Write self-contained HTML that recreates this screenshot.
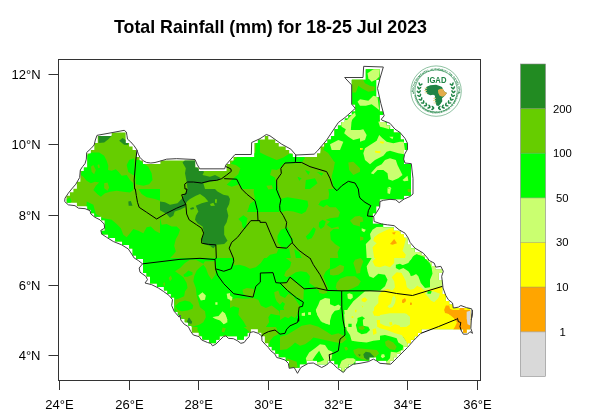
<!DOCTYPE html>
<html><head><meta charset="utf-8"><title>Total Rainfall</title>
<style>
html,body{margin:0;padding:0;background:#fff;}
body{width:600px;height:415px;overflow:hidden;position:relative;font-family:"Liberation Sans",sans-serif;}
svg{position:absolute;left:0;top:0;}
text{font-family:"Liberation Sans",sans-serif;fill:#000;}
.t{font-size:17.8px;font-weight:bold;}
.a{font-size:13px;}
.l{font-size:11.3px;}
</style></head><body>
<svg width="600" height="415" viewBox="0 0 600 415">
<rect width="600" height="415" fill="#fff"/>
<text class="t" x="114" y="33.3">Total Rainfall (mm) for 18-25 Jul 2023</text>
<!--MAP-->
<g id="map"><defs><clipPath id="cc"><path d="M365.74 69.23h13.92v3.57h-13.92zM365.74 72.74h13.92v3.57h-13.92zM365.74 76.26h13.92v3.57h-13.92zM351.82 79.77h24.36v3.57h-24.36zM351.82 83.28h24.36v3.57h-24.36zM351.82 86.79h24.36v3.57h-24.36zM351.82 90.31h24.36v3.57h-24.36zM351.82 93.82h24.36v3.57h-24.36zM351.82 97.33h27.84v3.57h-27.84zM351.82 100.84h27.84v3.57h-27.84zM355.30 104.36h24.36v3.57h-24.36zM355.30 107.87h24.36v3.57h-24.36zM351.82 111.38h31.32v3.57h-31.32zM348.34 114.89h31.32v3.57h-31.32zM344.86 118.41h34.80v3.57h-34.80zM341.38 121.92h45.24v3.57h-45.24zM337.90 125.43h52.20v3.57h-52.20zM334.42 128.94h59.16v3.57h-59.16zM111.70 132.46h13.92v3.57h-13.92zM334.42 132.46h66.12v3.57h-66.12zM97.78 135.97h27.84v3.57h-27.84zM264.82 135.97h3.48v3.57h-3.48zM330.94 135.97h69.60v3.57h-69.60zM97.78 139.48h27.84v3.57h-27.84zM257.86 139.48h17.40v3.57h-17.40zM327.46 139.48h76.56v3.57h-76.56zM94.30 142.99h34.80v3.57h-34.80zM254.38 142.99h24.36v3.57h-24.36zM323.98 142.99h83.52v3.57h-83.52zM94.30 146.51h38.28v3.57h-38.28zM254.38 146.51h31.32v3.57h-31.32zM320.50 146.51h87.00v3.57h-87.00zM90.82 150.02h45.24v3.57h-45.24zM254.38 150.02h34.80v3.57h-34.80zM320.50 150.02h83.52v3.57h-83.52zM87.34 153.53h48.72v3.57h-48.72zM254.38 153.53h38.28v3.57h-38.28zM317.02 153.53h87.00v3.57h-87.00zM87.34 157.04h52.20v3.57h-52.20zM233.50 157.04h170.52v3.57h-170.52zM87.34 160.56h55.68v3.57h-55.68zM160.42 160.56h34.80v3.57h-34.80zM230.02 160.56h174.00v3.57h-174.00zM87.34 164.07h107.88v3.57h-107.88zM226.54 164.07h184.44v3.57h-184.44zM83.86 167.58h114.84v3.57h-114.84zM226.54 167.58h184.44v3.57h-184.44zM80.38 171.09h330.60v3.57h-330.60zM80.38 174.61h330.60v3.57h-330.60zM80.38 178.12h330.60v3.57h-330.60zM76.90 181.63h334.08v3.57h-334.08zM76.90 185.14h334.08v3.57h-334.08zM73.42 188.66h337.56v3.57h-337.56zM69.94 192.17h341.04v3.57h-341.04zM66.46 195.68h337.56v3.57h-337.56zM66.46 199.19h313.20v3.57h-313.20zM76.90 202.71h302.76v3.57h-302.76zM87.34 206.22h288.84v3.57h-288.84zM90.82 209.73h285.36v3.57h-285.36zM94.30 213.24h278.40v3.57h-278.40zM101.26 216.76h271.44v3.57h-271.44zM104.74 220.27h267.96v3.57h-267.96zM104.74 223.78h278.40v3.57h-278.40zM104.74 227.29h288.84v3.57h-288.84zM101.26 230.81h299.28v3.57h-299.28zM108.22 234.32h295.80v3.57h-295.80zM115.18 237.83h292.32v3.57h-292.32zM122.14 241.34h285.36v3.57h-285.36zM129.10 244.86h281.88v3.57h-281.88zM132.58 248.37h281.88v3.57h-281.88zM132.58 251.88h288.84v3.57h-288.84zM136.06 255.39h288.84v3.57h-288.84zM143.02 258.91h285.36v3.57h-285.36zM143.02 262.42h288.84v3.57h-288.84zM143.02 265.93h292.32v3.57h-292.32zM143.02 269.44h299.28v3.57h-299.28zM146.50 272.96h292.32v3.57h-292.32zM149.98 276.47h288.84v3.57h-288.84zM149.98 279.98h292.32v3.57h-292.32zM156.94 283.49h285.36v3.57h-285.36zM163.90 287.01h278.40v3.57h-278.40zM167.38 290.52h274.92v3.57h-274.92zM170.86 294.03h274.92v3.57h-274.92zM174.34 297.54h271.44v3.57h-271.44zM174.34 301.06h274.92v3.57h-274.92zM174.34 304.57h278.40v3.57h-278.40zM174.34 308.08h295.80v3.57h-295.80zM177.82 311.59h292.32v3.57h-292.32zM181.30 315.11h288.84v3.57h-288.84zM184.78 318.62h285.36v3.57h-285.36zM188.26 322.13h281.88v3.57h-281.88zM191.74 325.64h278.40v3.57h-278.40zM191.74 329.16h59.16v3.57h-59.16zM257.86 329.16h163.56v3.57h-163.56zM463.18 329.16h3.48v3.57h-3.48zM198.70 332.67h48.72v3.57h-48.72zM261.34 332.67h156.60v3.57h-156.60zM202.18 336.18h17.40v3.57h-17.40zM236.98 336.18h6.96v3.57h-6.96zM264.82 336.18h149.64v3.57h-149.64zM209.14 339.69h6.96v3.57h-6.96zM264.82 339.69h146.16v3.57h-146.16zM268.30 343.21h139.20v3.57h-139.20zM271.78 346.72h132.24v3.57h-132.24zM275.26 350.23h125.28v3.57h-125.28zM278.74 353.74h118.32v3.57h-118.32zM285.70 357.26h83.52v3.57h-83.52zM376.18 357.26h17.40v3.57h-17.40zM289.18 360.77h17.40v3.57h-17.40zM317.02 360.77h10.44v3.57h-10.44zM334.42 360.77h20.88v3.57h-20.88zM386.62 360.77h3.48v3.57h-3.48zM289.18 364.28h10.44v3.57h-10.44zM337.90 364.28h10.44v3.57h-10.44zM341.38 367.79h3.48v3.57h-3.48z"/></clipPath></defs>
<g clip-path="url(#cc)">
<rect x="58" y="59" width="422" height="320" fill="#66CD00"/>
<path fill="#00FF00" d="M86.33 159.17L86.67 155.83L90.83 152.5L99.17 152.5L104.17 155.83L106.67 160.83L108.33 165.83L108 170L111.67 170.83L115.83 169.17L118.67 172L121.67 175.83L126.67 175L130 180L133.33 183.33L133.33 190L130 192.5L123.33 191.67L116.67 190.83L110 191.67L105 193.33L100.83 196.67L97.5 194.17L93.33 190L95.83 185.83L99.17 182.5L95 181.67L90.83 183.33L86.67 180.83L83.33 176.67L80.83 175L82.5 168.33L85 163.67Z"/>
<path fill="#00FF00" d="M66.67 199.17L70 197.5L71.67 201.67L69.17 203.67L67 202.5Z"/>
<path fill="#00FF00" d="M126.67 165L129.17 160L134.17 158.33L135.33 175L133.33 175.33L128.33 172Z"/>
<path fill="#00FF00" d="M135.83 160L140 160L143.33 163.33L148.33 166.67L151.67 173.33L152.5 180L149.17 184.17L143.33 185.83L135.83 184.17L135.33 175Z"/>
<path fill="#00FF00" d="M230.83 163.67L235 159.17L238.33 155.83L251.67 155.33L255.33 152.5L255.83 142.5L260 139.17L260 189L241.67 189L239.67 184.17L231.67 186.67L226.67 184.67L233.33 178.33L238.33 174.17L240.33 168.33L235.83 165Z"/>
<path fill="#00FF00" d="M260 152.5L266.67 155.83L276.67 160L283.33 157.5L290 153.33L295.83 155.83L303.33 155.83L305 158.33L301.67 162.5L295.83 163.33L283.33 163.67L280 168.33L276.67 170L271.67 169.17L270 175L275 177.5L276.67 189L260 189Z"/>
<path fill="#00FF00" d="M341.67 120L338.33 122.5L326.67 140.83L323.33 150L328.33 153.33L323.33 160L330 163.33L335 161.67L333.33 170L331.67 176.67L333.33 189L360 189L360 120Z"/>
<path fill="#00FF00" d="M360 120L415 120L415 189L360 189Z"/>
<path fill="#00FF00" d="M336.67 65L386.67 65L391.67 124L336.67 124Z"/>
<path fill="#00FF00" d="M86.67 201.5L93.33 204.83L95.83 214L103.33 218.17L111.67 219.83L116.67 224L120.83 228.17L123.33 234.83L126.67 237.33L130 233.17L133.33 229L138.33 230.67L143.33 233.17L146.67 227.33L150.83 226.5L155 230.67L160 233.17L160 258L134.17 258L131.67 254L128.33 249L121.67 244.83L113.33 241.5L106.67 237.33L101.67 234L100.83 230.33L104.67 228.17L104.17 224L100 219.83L95 217.33L90.83 214L90 210.67L85 208.67L86.67 204.83Z"/>
<path fill="#00FF00" d="M138.33 189L160 189L160 200.67L155 199L146.67 197.33L141.67 194Z"/>
<path fill="#00FF00" d="M160 217.33L161.67 224.83L166.67 224L171.67 226.5L176.67 226.5L180 229.83L178.33 234.83L175.83 239L174.17 245.67L175.83 251.5L173.33 254.83L170 258L160 258Z"/>
<path fill="#00FF00" d="M238.33 219L243.33 215.33L247.5 218.17L246.67 222.33L245.83 229L242.5 227.33L241.67 222.33Z"/>
<path fill="#00FF00" d="M249.17 205.67L254.17 201.5L255.83 195.67L255 189.83L260 189L260 212.33L255.83 211.5L250.83 210.67Z"/>
<path fill="#00FF00" d="M260 189L276.67 189L278.33 195.67L280 199L276.67 203.17L270 204.83L266.67 209L260 205.67Z"/>
<path fill="#00FF00" d="M280 199L287.5 197.33L298.33 199L307.5 200.67L308.33 205.67L305.83 211.5L301.67 214L293.33 211.5L286.67 210.67L280.83 212.33L279.17 205.67Z"/>
<path fill="#00FF00" d="M328.33 189L360 189L360 215.67L355 216.5L350 220.67L353.33 224.83L360 226.5L360 258L338.33 258L337.5 252.33L340 247.33L335 244L330.83 239.83L330 232.33L333.33 229L339.17 229L338.33 226.5L331.67 228.17L326.67 224.83L330 221.5L325.83 219.83L330 218.17L338.33 217.33L340 212.33L335.83 207.33L330 207.33L326.67 204.83L323.33 207.33L318.33 204.83L320.83 200.67L328.33 199L329.17 194Z"/>
<path fill="#00FF00" d="M319.17 222.33L322.5 219.83L325.83 221.5L324.17 226.5L320.83 229L318.67 226.5Z"/>
<path fill="#00FF00" d="M305.83 236.5L309.17 233.17L313.33 227.33L315.83 229L314.17 234L311.67 238.17L307.5 239.83Z"/>
<path fill="#00FF00" d="M277.5 235.67L280.83 229.83L285 228.17L287.5 227.33L290 232.33L290.83 237.33L293.33 239L290.83 243.17L286.67 248.17L281.67 247.33L277.5 242.33Z"/>
<path fill="#00FF00" d="M266.67 258L270 254.83L276.67 253.17L278.33 249L289.17 248.17L290.83 258Z"/>
<path fill="#00FF00" d="M294.17 249L299.17 252.33L301.67 258L295.83 258Z"/>
<path fill="#00FF00" d="M360 189L415 189L415 229L360 229Z"/>
<path fill="#00FF00" d="M360 227.33L373.33 227.33L370 258L360 258Z"/>
<path fill="#00FF00" d="M130 258L230 258L230 327L130 327Z"/>
<path fill="#00FF00" d="M230 258L330 258L330 327L230 327Z"/>
<path fill="#00FF00" d="M330 258L430 258L430 327L330 327Z"/>
<path fill="#00FF00" d="M197.5 326.67L200 324.17L205 322.5L206.67 316.67L205 310L238.33 310L244.17 316.67L242.5 322.5L243.33 326.67L246.67 329.17L249.17 331.67L248.67 336.67L244.17 342.5L240.83 342.5L237.5 340L233.33 338.33L228.33 337.5L225.83 335L223.33 335.83L219.17 340L215.83 344.17L206.67 341.67L202.5 339.17L200 335L197.5 330Z"/>
<path fill="#00FF00" d="M268.33 315L273.33 312.5L280 313.33L280 358.33L276.67 357.5L275 354.17L270.83 350.83L268.33 347.5L270 340.83L273.33 336.67L278.33 334.17L276.67 328.33L273.33 324.17L269.17 322.5L267.5 318.33Z"/>
<path fill="#00FF00" d="M280 310L380 310L380 379L280 379Z"/>
<path fill="#00FF00" d="M255 190L277.5 190L278 200L275 207.5L267.5 208.75L260 205L256.25 198.75Z"/>
<path fill="#00FF00" d="M254.22 185.18L260.3 187.2L266.37 185.18L268.39 189.22L273.45 190.24L275.47 185.18L274.46 180.12L277.5 186.19L279.52 193.27L281.04 200.36L279.52 211.99L247.14 211.99L250.18 203.39L255.24 200.36L253.72 192.26Z"/>
<path fill="#66CD00" d="M90.83 166.67L93.33 165L95.83 170L94.17 174.17L91.67 171.67Z"/>
<path fill="#66CD00" d="M97.5 165L99.17 164.17L100 167.5L98.33 168.33Z"/>
<path fill="#66CD00" d="M104.17 183.33L107.5 182.5L109.17 187.5L107.5 190.83L104.17 188.33Z"/>
<path fill="#66CD00" d="M348.33 162.5L353.33 161.67L360 168.33L360 171.67L353.33 175L349.17 170Z"/>
<path fill="#66CD00" d="M347.5 79.17L362.5 78.33L365 83.33L370 85.83L375 86.67L374.17 90.83L368.33 91.67L361.67 88.33L358.33 85.83L355.83 92.5L352.5 92.5L352 85Z"/>
<path fill="#66CD00" d="M360 216.5L362.5 217.33L363.33 221.5L360 222.33Z"/>
<path fill="#66CD00" d="M360 236.5L363.33 237.33L363.33 239.83L360 240.67Z"/>
<path fill="#66CD00" d="M407.5 189L410.83 189L410.83 192.33L408 192Z"/>
<path fill="#66CD00" d="M175 271.33L180 268L185 263L190 259.67L195.83 259.67L203.33 263.83L205 261.33L215.83 261.33L216.33 268L215.33 274.67L211.67 279.67L208.33 274.67L205.83 268L203.33 264.67L200 267.17L196.67 270.5L194.17 276.33L193.33 281.33L195.83 288L196.67 295.5L198.33 301.33L200 307.17L205 311.33L205.83 317.17L203.33 322.17L199.17 324.67L191.67 327L188.33 323.83L183.33 321.33L179.17 314.67L175 308L174.17 299.67L178.33 298.83L184.17 296.33L185 291.33L187.5 288L186.67 283L183.33 277.17L180 274.67Z"/>
<path fill="#66CD00" d="M168.67 278L170.83 275.5L172 278.83L170 281.33Z"/>
<path fill="#66CD00" d="M163.33 283L164.67 282.17L165 285.5L163.67 286Z"/>
<path fill="#66CD00" d="M233.33 258L264.17 258L260.83 263L255.83 267.17L250 268.83L245 266.33L239.17 264.67L234.17 265.5Z"/>
<path fill="#66CD00" d="M285.83 258L330 258L330 268L325.83 271.33L323.33 276.33L325.83 283L328.33 288.83L323.33 290.5L317.5 289.67L314.17 286.33L309.17 283L310 276.33L306.67 272.17L300.83 271.33L295.83 272.17L290.83 275.5L286.67 277.17L284.17 275.5L285.83 271.33L290 267.17L291.33 262.17Z"/>
<path fill="#66CD00" d="M242.5 289.67L246.67 288L253.33 288.83L255 291.33L253.33 297.17L246.67 296.33L243.33 293.83Z"/>
<path fill="#66CD00" d="M230 299.67L236.67 298L245 298.83L253.33 298L258.33 299.67L260.83 305.5L265.83 308L271.67 305.5L275 308L279.17 311.33L280 315.5L275 314.67L270.83 313.83L268.33 317.17L269.17 322.17L265.83 327L246.67 327L243.33 321.33L238.33 314.67L239.17 308L233.33 306.33L230 308Z"/>
<path fill="#66CD00" d="M274.17 292.17L278.33 290.5L280 295.5L285 298L288.33 293.83L293.33 296.33L296.67 301.33L300 306.33L298.33 313L295 318L290 315.5L285.83 313L283.33 308L285 303.83L282.5 301.67L280 304.67L276.67 301.33L275 297.17Z"/>
<path fill="#66CD00" d="M330 269.67L335 268L340 264.67L344.17 266.33L343.33 271.33L338.33 274.67L333.33 275.5L330 274.67Z"/>
<path fill="#66CD00" d="M355 259.67L360.83 258L363.33 261.33L360.83 268L360 273L356.67 273.83L355 268L353.33 263Z"/>
<path fill="#66CD00" d="M336.67 283L340 278.83L346.67 276.33L355 276.33L360.83 281.33L358.33 285.5L353.33 288L346.67 290.5L337.5 290.5L335.83 287.17Z"/>
<path fill="#66CD00" d="M222.5 327.5L225.83 328.33L224.17 332.5L221.67 331.67Z"/>
<path fill="#66CD00" d="M280 310L290 310L292.5 315L288.33 318.33L285 316.67L280 320Z"/>
<path fill="#66CD00" d="M280 336.67L286.67 335L295 330L301.67 325.83L310 324.17L318.33 326.67L326.67 331.67L331.67 335L338.33 333.33L344.17 335.83L346.67 339.17L341.67 343.33L336.67 342.5L328.33 340.83L321.67 339.17L313.33 337.5L310 340.83L305 344.17L300 345.83L295 342.5L291.67 345.83L286.67 349.17L280 350Z"/>
<path fill="#66CD00" d="M286.67 358.33L291.67 360L296.67 361.67L297.5 366.67L297.5 373.33L294.17 367.5L289.17 368.33L288.33 363.33Z"/>
<path fill="#66CD00" d="M353.33 350L358.33 348.33L368.33 349.17L376.67 350L379.17 353.33L373.33 359.17L366.67 360L361.67 359.17L356.67 356.67L354.17 353.33Z"/>
<path fill="#66CD00" d="M344.17 347.5L346.67 346.67L348.33 349.17L345.83 350.83Z"/>
<path fill="#66CD00" d="M318.5 289.6L326.67 289.83L327.25 292.75L323.17 293.92L319.09 292.75Z"/>
<path fill="#66CD00" d="M289.92 277.58L303.92 288.67L303.33 300.33L295.17 296.25L287 289.83L281.17 283.42L286.42 282.25Z"/>
<path fill="#66CD00" d="M305 155.83L315 154.17L323.33 150L328.33 153.33L334.17 161.67L333.33 170L330 171.67L326.67 170.83L310 166.33L302.5 162.5L305 158.67Z"/>
<path fill="#66CD00" d="M266.37 185.68L271.93 185.18L272.94 188.72L268.39 189.43Z"/>
<path fill="#00FF00" d="M305 170L310 171.67L308.33 175Z"/>
<path fill="#00FF00" d="M297.5 176.67L301.67 178.33L299.17 180.83Z"/>
<path fill="#00FF00" d="M305.83 180L315 178.33L317.5 183.33L310 189L305 189Z"/>
<path fill="#00FF00" d="M316.67 171.67L323.33 173.33L321.67 175.83Z"/>
<path fill="#00FF00" d="M183.33 274.67L185.83 273L188.33 270.5L192.5 272.17L192.5 274.67L187.5 276.67L184.17 276.67Z"/>
<path fill="#00FF00" d="M175 306.33L179.17 302.17L185 300.5L190 301.67L193.33 305.5L192.5 308.83L187.5 310.5L181.67 311.33L177.5 309.67Z"/>
<path fill="#CAFF70" d="M340 121.67L343.33 120L351.67 120L350.83 130L360 130L360 138.33L353.33 140L348.33 136.67L344.17 133.33L345.83 129.17L341.67 126.67Z"/>
<path fill="#CAFF70" d="M330 144.17L338.33 140L343.33 141.67L340 150L331.67 150Z"/>
<path fill="#CAFF70" d="M360 130L363.33 129.17L366.67 135L365 140L360 141.67Z"/>
<path fill="#CAFF70" d="M378.33 121.67L381.67 120.83L390 125L389.17 129.17L383.33 127.5L380 126.67Z"/>
<path fill="#CAFF70" d="M365 148.33L370 145L376.67 140.83L379.17 135L382.5 138.33L386.67 141.67L393.33 143.33L400 141.67L403.67 141.67L405 150L404.17 154.17L398.33 153.33L390 150.83L386.67 151.67L383.33 155.83L375 160L370 164.17L365 160L363.33 153.33Z"/>
<path fill="#CAFF70" d="M389.17 136.67L393.33 136.67L392.5 139.17Z"/>
<path fill="#CAFF70" d="M370.83 173.33L376.67 166.67L381.67 164.17L385 160L390 158.33L395.83 160L397.5 165L400 170L402.5 175L398.33 178.33L392.5 180.83L388.33 179.17L387.5 173.33L383.33 170L377.5 170L373.33 174.17Z"/>
<path fill="#CAFF70" d="M402.5 180L407.5 175.83L408.33 180.83L404.17 181.33Z"/>
<path fill="#CAFF70" d="M386.67 188.33L390 186.67L391.67 189Z"/>
<path fill="#CAFF70" d="M367.5 73.33L373.33 69.17L380.33 68.33L379.17 76.67L376.67 79.17L371.67 81.67L368.33 78.33Z"/>
<path fill="#CAFF70" d="M357.5 101.67L360 99.17L368.33 100.83L373.33 95.83L377.5 96.67L379.17 110L375 106.67L371.67 104.17L365.83 105.83L360 105.83Z"/>
<path fill="#CAFF70" d="M347.5 119.17L351.67 115L355 112.5L355.83 115.83L352.5 119.17L350 124L347.5 124Z"/>
<path fill="#CAFF70" d="M379.17 121.67L384.17 120.83L386.67 124L380 124Z"/>
<path fill="#CAFF70" d="M372.5 229.83L376.67 227L394.17 226.5L399.17 230.33L405 233.67L408.33 238.67L410 243.17L415 248.67L415 258L366.67 258L365.83 244L370.83 239L370 234Z"/>
<path fill="#CAFF70" d="M361.67 228.17L365.83 229.83L364.17 232.33L361.67 230.67Z"/>
<path fill="#CAFF70" d="M387.5 189L390.83 189L390 194L387.5 193.17Z"/>
<path fill="#CAFF70" d="M198.33 295.5L202.5 292.17L205.83 295.5L205 299.67L200.83 300.5Z"/>
<path fill="#CAFF70" d="M212.5 317.17L218.33 316.33L222.5 311.33L225.83 315.5L227.5 322.17L223.33 323.83L220 320.5L215 318.83Z"/>
<path fill="#CAFF70" d="M215.33 302.17L217.5 302.17L217.5 304.67L215.33 304.67Z"/>
<path fill="#CAFF70" d="M226.67 293.83L230 293L230 299.67L227.5 298.83Z"/>
<path fill="#CAFF70" d="M320 300.5L325 298L330 298.83L330 324.67L325.83 323.83L320.83 321.33L317.5 315.5L315.83 309.67L318.33 304.67Z"/>
<path fill="#CAFF70" d="M230 295.5L232.5 297.17L232 300.5L230 300.5Z"/>
<path fill="#CAFF70" d="M302.5 313L305 313L305 315.5L302.5 315.5Z"/>
<path fill="#CAFF70" d="M308.33 312.17L310.83 312.17L310.83 314.67L308.33 314.67Z"/>
<path fill="#CAFF70" d="M366.67 266.33L371.67 258L430 258L430 327L345 327L344.17 314.67L348.33 308L353.33 301.33L360 295.5L365 291.33L380 290.5L385 286.33L387.5 279.67L385 274.67L378.33 273.83L373.33 278L369.17 276.33L367.5 271.33Z"/>
<path fill="#CAFF70" d="M400 258L450 258L450 291.33L400 291.33Z"/>
<path fill="#CAFF70" d="M212.5 317L220 316.33L222.5 311.67L225 313.33L227.5 320L225.83 323.33L223.33 324.17L221.67 320L217.5 318.33Z"/>
<path fill="#CAFF70" d="M315.83 310L335 310L331.67 315L330 320.83L329.17 325L325.83 321.67L322.5 322.5L320 318.33L317.5 315Z"/>
<path fill="#CAFF70" d="M301.67 313.33L305 312.5L305 315.83L301.67 315.83Z"/>
<path fill="#CAFF70" d="M308.33 312.5L310.83 312.5L310.83 314.67L308.33 314.67Z"/>
<path fill="#CAFF70" d="M305.83 358.33L309.17 352.5L315 348.33L320 344.17L325 345L328.33 350L332.5 351.67L331.67 358.33L330 361.67L326.67 365L321.67 367.5L313.33 363L308.33 363.33L306.67 361.67Z"/>
<path fill="#CAFF70" d="M344.17 310L380 310L380 340L373.33 340.83L366.67 342.5L358.33 341.67L351.67 340.83L350 335L346.67 330L345.33 320Z"/>
<path fill="#CAFF70" d="M339.17 366.67L341.67 360.83L346.67 358.33L353.33 358.33L355.83 360L353.33 364.17L346.67 368.33L343.33 372.5L340 370Z"/>
<path fill="#CAFF70" d="M329 303.84L334.84 306.17L338.34 304.42L340.67 306.17L339.5 309.67L334.84 310.84L331.34 314.34L329 312Z"/>
<path fill="#CAFF70" d="M347.3 294L349.5 293.2L352.5 294.5L352.9 297.5L350.5 299.4L347.8 298.5Z"/>
<path fill="#00FF00" d="M409.17 247.33L415.83 248.17L415.83 258L410 258Z"/>
<path fill="#00FF00" d="M395.83 264.67L400 263.83L403.33 265.5L410 263L413.33 258L430 258L430 287.17L425 288L420.83 283L418.33 276.33L415 273L411.67 276.33L408.33 271.33L403.33 268L399.17 269.67L395.83 268Z"/>
<path fill="#00FF00" d="M357.5 318L362.5 316.33L363.33 327L357.5 327Z"/>
<path fill="#00FF00" d="M348.33 323.83L351.67 323.83L351.67 327L348.33 327Z"/>
<path fill="#00FF00" d="M401.67 265.5L408.33 263L411.67 258L427.5 258L430 263L431.67 268L432.5 273.83L430 279.67L427.5 283L426.67 287.17L424.17 286.33L422.5 281.33L420 277.17L416.67 273.83L413.33 275.5L410 275.5L412.5 269.67L408.33 266.33L403.33 267.17Z"/>
<path fill="#00FF00" d="M312.5 360L315.83 355L319.17 350.83L321.67 355.83L324.17 360L320 361.67L315.83 362.5Z"/>
<path fill="#00FF00" d="M355.83 325L358.33 320L362.5 316.67L365 318.33L361.67 320.83L360 325L363.33 325.83L368.33 326.67L370 330L366.67 333.33L361.67 334.17L357.5 331.67Z"/>
<path fill="#66CD00" d="M358.33 326.67L363.33 325.83L365 328.33L362.5 330L359.17 329.17Z"/>
<path fill="#FFFF00" d="M380 141.33L384.17 141.67L383.33 143.67L380.33 143Z"/>
<path fill="#FFFF00" d="M375 150.83L380.83 151.33L380 153.33L375.33 152.83Z"/>
<path fill="#FFFF00" d="M360 148L363 148.33L362.5 149.67L360 149.67Z"/>
<path fill="#FFFF00" d="M374.17 237.33L378.33 234L385 230.67L390.83 228.17L394.17 227.67L399.17 231.5L403.67 234.83L405.83 239L404.17 245.67L402.5 250.67L405.83 254.83L405 258L374.17 258L372.5 247.33L376.67 243.17L373.33 240.67Z"/>
<path fill="#FFFF00" d="M372.5 261.33L375.83 258L394.17 258L394.17 263L390 267.17L385 265.5L380 267.17L375 266.33Z"/>
<path fill="#FFFF00" d="M391.67 277.17L396.67 272.17L401.67 273L404.17 279.67L406.67 287.17L411.67 291.33L416.67 286.33L420.83 287.17L425 291.33L430 290.5L430 327L411.67 327L410.83 321.33L408.33 316.33L403.33 313.83L396.67 315.5L388.33 313.83L381.67 314.67L377.5 316.33L373.67 313L374.17 307.17L378.33 303L378.33 296.33L381.67 291.33L387.5 288.83L392.5 290.5L395 287.17L394.17 281.33Z"/>
<path fill="#FFFF00" d="M376.67 321.33L380 323.83L386.67 325.5L390 327L377.5 327Z"/>
<path fill="#FFFF00" d="M361.67 298.83L365 297.17L367.5 299.67L365 302.17L361.67 301.33Z"/>
<path fill="#FFFF00" d="M355 309.67L356.67 309.67L356.33 312.17L355 312.17Z"/>
<path fill="#FFFF00" d="M361.67 305.5L363.33 306.33L362.5 307.67Z"/>
<path fill="#FFFF00" d="M400 272.17L403.33 276.33L405.83 281.33L406.67 287.17L410 289.67L415 288.83L417.5 285.5L420 288.83L425 290.5L442.67 286L444 288.83L447 295.5L449.5 299.67L453.67 303L454.33 308.33L458.33 308L460.83 306.33L466.67 308L471.67 309.67L471.67 327L400 327Z"/>
<path fill="#FFFF00" d="M372.5 311.67L375.83 310L380 310L380 315.83L374.17 315.83Z"/>
<path fill="#FFFF00" d="M376.67 320L380 320L380 328.33L377.5 326.67Z"/>
<path fill="#FFFF00" d="M372.5 329.17L375.83 328.33L376.67 333.33L373.33 335Z"/>
<path fill="#FFFF00" d="M351.67 316.33L353.33 316.33L353.33 318L351.67 318Z"/>
<path fill="#FFFF00" d="M380 310L480 310L480 336.67L380 336.67Z"/>
<path fill="#FFFF00" d="M396.67 331.67L423.33 330L421.67 334.17L407.5 348.33L405.83 340.83L401.67 335Z"/>
<path fill="#CAFF70" d="M387.5 306.33L390.83 303.83L392.5 297.17L394.17 295.5L395.83 298.83L395 303L392.5 307.17L389.17 308Z"/>
<path fill="#CAFF70" d="M425 293.83L427.5 291.33L433.33 291.33L440 293.83L438.33 298L434.17 302.17L430.83 300.5L428.33 297.17Z"/>
<path fill="#CAFF70" d="M400 314.67L406.67 313.83L410 318L409.17 324.67L405 327L400 327Z"/>
<path fill="#00FF00" d="M427.5 291.33L431.67 291L430.83 293.83L427.5 293.83Z"/>
<path fill="#CAFF70" d="M380 315L390 313.33L405 313.33L410 316.67L410 324.17L406.67 326.67L400 325.83L395 324.17L390 326.67L385 325.83L380 323.33Z"/>
<path fill="#CAFF70" d="M380 328.33L386.67 330L395 333.33L401.67 335L405.83 340.83L408.33 345.83L398.33 358.33L390.83 366.67L380 366.67Z"/>
<path fill="#CAFF70" d="M407.11 240L434.78 240L434.78 266.99L429.38 262.94L423.98 256.87L416.56 254.17L413.18 256.19L410.49 260.24L407.79 258.89L406.44 248.1Z"/>
<path fill="#FFA500" d="M391.67 232.67L395.83 232L394.17 234.83Z"/>
<path fill="#FFA500" d="M390 244L394.17 239L397 243.17L392.5 244.83Z"/>
<path fill="#FFA500" d="M402.5 299.67L405.33 298.83L405.83 301.33L403.33 303.33L402 302.17Z"/>
<path fill="#FFA500" d="M410 302.67L411.67 302.67L411.67 304.67L410 304.67Z"/>
<path fill="#FFA500" d="M444.17 309.67L445.83 305.5L449.17 305.5L450 308.83L454.17 310.5L459.17 310.5L460 307.17L464.17 307.67L464.67 311.33L467.5 311.33L473.33 311.33L473.33 327L459.17 327L456.67 321.33L451.67 315.5L448.33 313.83L445 313Z"/>
<path fill="#FFA500" d="M402.5 299.67L405 298L405.83 300.5L403.67 303L402 302.17Z"/>
<path fill="#FFA500" d="M410 302.67L411.67 302.67L411.67 304.67L410 304.67Z"/>
<path fill="#FFFF00" d="M389.17 322.5L391.67 321.67L392.5 325L390 325.83Z"/>
<path fill="#00FF00" d="M380 335.83L385 335L391.67 336.67L396.67 338.33L398.33 342.5L403.33 345.83L402.5 350L396.67 352.5L390.83 351.67L390 358.33L386.67 361.67L380 365Z"/>
<path fill="#00FF00" d="M413.86 255.92L416.56 254.3L423.98 257L428.03 262.27L414.53 262.27Z"/>
<path fill="#D9D9D9" d="M467.5 312.17L470 311.33L473.33 313L473.33 323L467.5 323.83L466.67 318Z"/>
<path fill="#66CD00" d="M385 341.67L388.33 340L393.33 342.5L396.67 346.67L395 350L390 349.17L385.83 345.83Z"/>
<path fill="#CAFF70" d="M381.67 354.17L384.17 354.17L385 356.67L382.5 358.33L380.83 356.67Z"/>
<path fill="#FFA500" d="M444.17 310L480 310L480 336.67L452.5 336.67L452.5 330.83L455 326.67L457 322.5L454.17 318.33L450 315L446.67 312.5Z"/>
<path fill="#228B22" d="M98.33 135.33L112.5 135L108.33 139.17L104.17 142.5L98.67 143Z"/>
<path fill="#228B22" d="M119.17 140.83L122.5 138L125.83 140L128.67 141.67L128 145L124.17 144.67Z"/>
<path fill="#228B22" d="M182.5 162.5L185 160L195 160L195.83 165.83L199.17 169.17L204.17 171.67L202.5 175L210 176.67L215 175L220 177.5L219.17 180L210 181.67L203.33 183.33L205 189L187.5 189L186.67 181.67L185 173.33L185.83 168.33Z"/>
<path fill="#228B22" d="M128.33 201.5L130.83 201L132.5 205.67L128.67 205.67Z"/>
<path fill="#228B22" d="M187.5 189L215 189L217.5 191.5L223.33 194.83L228.33 195.67L230 199L229.17 204L226.67 209L228.33 215.67L226.67 222.33L224.17 226.5L224.17 234.83L227.5 240.67L224.17 244L216.67 244.83L213.33 248.17L210 245.67L203.33 244L201.67 239L204.17 233.17L202.5 226.5L197.5 223.17L195 219.83L195.83 215.67L198.33 211.5L195.83 205.67L201.67 203.17L208.33 201.5L204.67 197.33L200 194L195.83 195.67L190 199L185 203.17L181.67 200.67L183.33 195.67L186.67 191.5Z"/>
<path fill="#228B22" d="M160 201.5L165 202.33L170 204.83L177.5 203.17L180.83 199.83L184.17 196.5L188.33 198.17L185.83 204L185 207.33L180 209.83L174.67 211.5L173.33 215.67L170 217.67L166.67 214L160 210.33Z"/>
<path fill="#228B22" d="M190 208.17L193.33 207L194.17 209L190.83 209.83Z"/>
<path fill="#228B22" d="M186.67 322.17L188.67 317.67L192 322.17L190.83 323.33Z"/>
<path fill="#228B22" d="M186.67 323.33L189.17 317.5L192 321.67L191.67 323.67Z"/>
<path fill="#228B22" d="M363.33 354.17L365.83 351.67L370 352.5L374.17 356.67L373.33 359.17L366.67 359.67L364.17 357.5Z"/>
<path fill="#228B22" d="M358 354.17L360.83 354.67L359.67 356.33Z"/>
<path fill="#D9D9D9" d="M466.67 311.67L470 310.83L473.33 313.33L473.33 320L471.33 325.83L467.5 324.17L466.67 318.33Z"/>
<path fill="#66CD00" d="M210 204L213.33 202.67L215 205.67L210.83 206Z"/>
<path fill="#66CD00" d="M215 199.33L217 199.33L216.67 203.17L215 202.67Z"/>
</g>
<g fill="none" stroke="#000" stroke-width="1" stroke-linejoin="round">
<path d="M137 150L135.83 160L135 170L134.17 180L134.67 189L135.33 189L136.33 195.67L137.5 202.33L139.17 207.33L146.67 212.33L156.67 219L160 217L166.67 213.17L176.67 208.17L185.83 204.33"/>
<path d="M225.33 166.33L230.83 168.83L231.33 171.33L226.67 175L221.67 178.67L216.67 180.33L210 180.83L201.67 183L193.33 182L187.5 182L184.67 184.17L185 189L187 189L185.83 194L181.67 194.83L183.33 199.83L185.83 204.33L186.67 214L189.17 219.83L196.67 224.83L201.67 228.17L203.67 233.17L201.67 239L201.67 243.17L208.33 244.33L215.83 244.83L216.33 258L215 259.5L215.5 268.75L217.5 275L223.75 283.75L233.75 293.75L252.5 297L253 297.17L255.83 286.33L260.33 282.17L260.33 273L273 272.67L275.83 282.67L280 283L286.67 282.67L290 277.17L304.17 288.83L316.67 288L327.5 290.5L330 290.5L341.67 290.83L370 290.83L385 291.33L396.67 293.5L412.5 295.5L412.5 295.5L442.5 286.33"/>
<path d="M224.17 178.67L236.67 179.17L241.67 189L241.67 189L246.67 194L255 200.67L257.5 210.67L258 220.67L250.83 220.67L243.33 229.83L237.5 237.33L231.67 242.33L229.17 248.17L231.67 254L233.33 258L233.75 261.25L231.25 268.75L223.75 271.25L215.5 268.75"/>
<path d="M258 220.67L260 220.67L260 222.33L265.83 222.33L270 232.33L276.67 247.33L286.67 248.17L292 242.67"/>
<path d="M295.83 155L295.33 162.5L285 163L280.83 168.33L281.33 173.33L276.67 180L276.67 189L276.33 189L278.33 194L280.83 199.83L279.67 205.67L280 210.67L283.33 215.67L286.67 222.33L285.83 228.17L288.33 233.17L291.67 239L292.5 243.17L298.33 249.83L305 254.83L309.67 258L310 258L313.33 264.67L320 274.67L324.17 283L327.5 290.5"/>
<path d="M295.33 162.5L301.67 162.5L310 166.67L326.67 171.67L330 178.33L332.5 185.83L335 189L337 190.67L338.67 189L341.67 185.83L348.33 181.33L355 183L358.33 189L359.17 195.67L360 198.17L365 202.33L370.83 205.67L368.33 210.67L367.5 216L373.67 216.5"/>
<path d="M142.5 263.83L180 259.33L200 258.33L215 259.5"/>
<path d="M280 283L287.5 290.5L296.67 298L303.33 302.17L302.5 306.33L299.17 307.17L298.33 313L298.67 321.33L298.67 316.67L297.5 322.5L290 325.83L286.67 329.17L285 333.33L280 334.17L275 330L268.33 331.67L263.33 334.17L261.67 336.67"/>
<path d="M341.67 290.83L341.83 308L342 310L343 320L344.67 328.33L345 335L340 339.17L339.17 345L338.33 350.83L333.33 353.33L329.17 354.67L330 361.67"/>
<path d="M420.83 333.33L438.33 326.67L456.67 319.17L457.5 318.33L458.33 321.67L460.83 322.5L460 326.67L461.33 330.83"/>
</g>
<path fill="none" stroke="#404040" stroke-width="1" stroke-linejoin="round" d="M420.83 333.33L413.33 340.83L407.5 347.5L398.33 356.67L390.83 364.17L380 363.33L376.67 360.83L373.33 359.17L368.33 361.67L360 363.33L353.33 364.17L346.67 368.33L343.33 372.5L340 370L337.5 368.33L333.33 364.17L330 361.67L326.67 365L321.67 367.5L313.33 363L308.33 363.33L300.83 367.5L297.5 373.33L294.17 367.5L289.17 368.33L288.33 363.33L285 360L280 358.33L276.67 357.5L275 354.17L270.83 350.83L268.33 347.5L265 344.17L262 340.83L261.67 335.83L258.33 333.33L253.33 331.67L250 332.5L249.17 336.67L246.67 339.17L244.17 342.5L240.83 343.33L237.5 340.83L233.33 338.67L228.33 338.33L225.83 335.83L223.33 336.67L219.17 340.83L215.83 344.17L212.5 345.83L210.83 343.33L207.5 342.5L201.67 340L199.17 336.67L193.33 335L190.83 331.67L188.33 326.67L184.17 324.17L180.83 320L180 315L179.17 317.17L174.17 311.33L171.67 305.5L172.5 299.67L169.17 295.5L163.33 291.33L158.33 288L151.67 284.67L145 283L147.5 279.67L145.83 276.33L140 272.17L139.17 268L142.5 263.83L138.33 260.5L134.17 258L131.67 254L128.33 249L121.67 244.83L113.33 241.5L106.67 237.33L101.67 234L100.83 230.33L104.67 228.17L104.17 224L100 219.83L95 217.33L90.83 214L90 210.67L85 208.67L78.33 208.17L75 205.67L68.33 204.83L64.67 201.5L65 198.17L68.33 193.17L71.67 189L71.67 189L75.83 184.17L79.67 177.5L80.33 170L82.5 166.67L85 163.67L86.33 159.17L86.67 152.5L90.83 148.67L94.17 145L95.33 140L97 135.33L110 133L124.17 130.33L126.33 132L127 135.83L127.5 139.17L130.83 142L134.17 145.83L137 150L138.33 154.17L140 157.5L143.33 160.83L146.67 162.5L150.83 163L155 162.5L160 161.17L166.67 159.17L176.67 158.67L195 159.5L197 164.17L199.67 168.83L224.67 168.83L225.83 165L235 154.5L251.33 154.5L251.67 142.5L260 138.67L266.33 134.5L270 135.83L281.67 144.17L290.83 149.17L295.83 155L314.17 154.17L317.5 150.83L326.67 140L333.33 130L338.33 122.5L345 117.5L355.33 108.33L351.67 104.17L351.67 85L344.67 77.5L363 77.5L363.67 66.33L383.33 67L380 78.33L377.5 88.33L380.83 103.33L384.17 115.83L381.33 119.17L381.67 120L390 123.33L395 129.17L400 132.5L405 138.33L407.5 143.33L407.5 149.17L404.67 154.17L403.67 159.17L405 163L411.33 163.67L412 170L413 178.33L413 189L413 194L410 196.5L404.17 199L399.17 202.67L395.83 199.83L390 199.33L383.33 200.33L380 201.5L379.67 207.33L376.67 212.33L373.67 216.5L374.17 221.5L381.67 224L387.5 224.83L394.17 225.67L399.17 229.83L405 233.17L408.33 238.17L410 242.33L415 248.17L423.33 253.17L427.5 258L429.17 260.5L434.17 263L435.83 267.17L440.83 266.33L443.33 271.33L441.67 276.33L442.5 283L443 288L445.83 295.5L448.33 299.67L452.5 303L453.33 308L458.33 307.17L460.83 305.5L466.67 307.67L471.67 308.83L472.5 313L471.33 319.67L472.5 310L471.33 320L470.83 328.33L472.5 333.33L470 331.67L467.5 334.17L463.33 334.17L461.33 330.83"/></g><!--ENDMAP-->
<!--LOGO--><g id="logo">
<rect x="409" y="64" width="54.500" height="54.500" fill="#fff"/>
<circle cx="436.1" cy="91.1" r="25.2" fill="#fff" stroke="#1f8445" stroke-width="0.5"/>
<circle cx="436.1" cy="91.1" r="21.2" fill="none" stroke="#1f8445" stroke-width="0.6"/>
<defs><path id="rt" d="M413.80 92.60A22.3 22.3 0 0 1 458.40 92.60"/><path id="rb" d="M413.90 94.10A22.4 22.4 0 0 0 458.30 94.10"/></defs>
<text style="font-size:3px;font-weight:bold;fill:#1f8445;letter-spacing:0.02px" text-anchor="middle"><textPath href="#rt" startOffset="50%">INTERGOVERNMENTAL AUTHORITY ON DEVELOPMENT</textPath></text>
<text style="font-size:2.8px;font-weight:bold;fill:#1f8445;letter-spacing:0px" text-anchor="middle"><textPath href="#rb" startOffset="50%">AUTORITE INTERGOUVERNEMENTALE POUR LE DEVELOPPEMENT</textPath></text>
<circle cx="413.50" cy="93.00" r="0.8" fill="#1f8445"/>
<circle cx="458.70" cy="93.00" r="0.8" fill="#1f8445"/>
<text x="427.26" y="82.91" textLength="19.2" lengthAdjust="spacingAndGlyphs" style="font-size:9.2px;font-weight:bold;fill:#1f8445">IGAD</text>
<path fill="#1f8445" d="M426.69 86.75L430.30 85.30L436.08 84.87L439.70 86.02L442.01 86.89L442.88 88.91L444.32 91.52L446.93 92.96L444.76 95.85L442.01 98.17L442.30 101.20L440.56 104.09L438.54 105.97L436.52 105.54L435.36 102.21L434.64 98.46L435.07 95.85L433.19 94.70L430.30 95.13L427.41 94.12L425.53 91.23L425.24 88.91 Z"/>
<path fill="#e3ab4a" d="M437.96 90.07L440.42 88.63L442.88 88.91L444.32 91.52L446.93 92.96L444.76 95.85L442.30 96.87L439.70 95.85L438.25 92.96 Z"/>
<rect x="424.52" y="87.76" width="2.6" height="0.9" fill="#f1d48a"/>
<rect x="424.23" y="90.07" width="2.6" height="0.9" fill="#f1d48a"/>
<rect x="424.66" y="92.38" width="2.6" height="0.9" fill="#f1d48a"/>
<rect x="433.34" y="97.88" width="2.6" height="0.9" fill="#f1d48a"/>
<rect x="433.05" y="100.19" width="2.6" height="0.9" fill="#f1d48a"/>
<rect x="433.63" y="102.50" width="2.6" height="0.9" fill="#f1d48a"/>
<ellipse cx="439.26" cy="107.11" rx="1.75" ry="0.8" fill="#1f8445" transform="rotate(-45.0 439.26 107.11)"/>
<ellipse cx="439.48" cy="108.94" rx="1.75" ry="0.8" fill="#1f8445" transform="rotate(31.0 439.48 108.94)"/>
<ellipse cx="442.73" cy="106.01" rx="1.75" ry="0.8" fill="#1f8445" transform="rotate(-57.8 442.73 106.01)"/>
<ellipse cx="443.35" cy="107.75" rx="1.75" ry="0.8" fill="#1f8445" transform="rotate(18.2 443.35 107.75)"/>
<ellipse cx="445.87" cy="104.18" rx="1.75" ry="0.8" fill="#1f8445" transform="rotate(-70.6 445.87 104.18)"/>
<ellipse cx="446.86" cy="105.73" rx="1.75" ry="0.8" fill="#1f8445" transform="rotate(5.4 446.86 105.73)"/>
<ellipse cx="448.52" cy="101.69" rx="1.75" ry="0.8" fill="#1f8445" transform="rotate(-83.4 448.52 101.69)"/>
<ellipse cx="449.83" cy="102.98" rx="1.75" ry="0.8" fill="#1f8445" transform="rotate(-7.4 449.83 102.98)"/>
<ellipse cx="450.56" cy="98.67" rx="1.75" ry="0.8" fill="#1f8445" transform="rotate(-96.2 450.56 98.67)"/>
<ellipse cx="452.13" cy="99.65" rx="1.75" ry="0.8" fill="#1f8445" transform="rotate(-20.2 452.13 99.65)"/>
<ellipse cx="451.87" cy="95.28" rx="1.75" ry="0.8" fill="#1f8445" transform="rotate(-109.0 451.87 95.28)"/>
<ellipse cx="453.62" cy="95.88" rx="1.75" ry="0.8" fill="#1f8445" transform="rotate(-33.0 453.62 95.88)"/>
<ellipse cx="452.41" cy="91.68" rx="1.75" ry="0.8" fill="#1f8445" transform="rotate(-121.8 452.41 91.68)"/>
<ellipse cx="454.25" cy="91.88" rx="1.75" ry="0.8" fill="#1f8445" transform="rotate(-45.8 454.25 91.88)"/>
<ellipse cx="452.13" cy="88.06" rx="1.75" ry="0.8" fill="#1f8445" transform="rotate(-134.6 452.13 88.06)"/>
<ellipse cx="453.97" cy="87.84" rx="1.75" ry="0.8" fill="#1f8445" transform="rotate(-58.6 453.97 87.84)"/>
<ellipse cx="451.06" cy="84.58" rx="1.75" ry="0.8" fill="#1f8445" transform="rotate(-147.4 451.06 84.58)"/>
<ellipse cx="452.80" cy="83.97" rx="1.75" ry="0.8" fill="#1f8445" transform="rotate(-71.4 452.80 83.97)"/>
<ellipse cx="432.72" cy="108.94" rx="1.75" ry="0.8" fill="#1f8445" transform="rotate(-211.0 432.72 108.94)"/>
<ellipse cx="432.94" cy="107.11" rx="1.75" ry="0.8" fill="#1f8445" transform="rotate(-135.0 432.94 107.11)"/>
<ellipse cx="428.85" cy="107.75" rx="1.75" ry="0.8" fill="#1f8445" transform="rotate(-198.2 428.85 107.75)"/>
<ellipse cx="429.47" cy="106.01" rx="1.75" ry="0.8" fill="#1f8445" transform="rotate(-122.2 429.47 106.01)"/>
<ellipse cx="425.34" cy="105.73" rx="1.75" ry="0.8" fill="#1f8445" transform="rotate(-185.4 425.34 105.73)"/>
<ellipse cx="426.33" cy="104.18" rx="1.75" ry="0.8" fill="#1f8445" transform="rotate(-109.4 426.33 104.18)"/>
<ellipse cx="422.37" cy="102.98" rx="1.75" ry="0.8" fill="#1f8445" transform="rotate(-172.6 422.37 102.98)"/>
<ellipse cx="423.68" cy="101.69" rx="1.75" ry="0.8" fill="#1f8445" transform="rotate(-96.6 423.68 101.69)"/>
<ellipse cx="420.07" cy="99.65" rx="1.75" ry="0.8" fill="#1f8445" transform="rotate(-159.8 420.07 99.65)"/>
<ellipse cx="421.64" cy="98.67" rx="1.75" ry="0.8" fill="#1f8445" transform="rotate(-83.8 421.64 98.67)"/>
<ellipse cx="418.58" cy="95.88" rx="1.75" ry="0.8" fill="#1f8445" transform="rotate(-147.0 418.58 95.88)"/>
<ellipse cx="420.33" cy="95.28" rx="1.75" ry="0.8" fill="#1f8445" transform="rotate(-71.0 420.33 95.28)"/>
<ellipse cx="417.95" cy="91.88" rx="1.75" ry="0.8" fill="#1f8445" transform="rotate(-134.2 417.95 91.88)"/>
<ellipse cx="419.79" cy="91.68" rx="1.75" ry="0.8" fill="#1f8445" transform="rotate(-58.2 419.79 91.68)"/>
<ellipse cx="418.23" cy="87.84" rx="1.75" ry="0.8" fill="#1f8445" transform="rotate(-121.4 418.23 87.84)"/>
<ellipse cx="420.07" cy="88.06" rx="1.75" ry="0.8" fill="#1f8445" transform="rotate(-45.4 420.07 88.06)"/>
<ellipse cx="419.40" cy="83.97" rx="1.75" ry="0.8" fill="#1f8445" transform="rotate(-108.6 419.40 83.97)"/>
<ellipse cx="421.14" cy="84.58" rx="1.75" ry="0.8" fill="#1f8445" transform="rotate(-32.6 421.14 84.58)"/>
</g><!--ENDLOGO-->
<!--FRAME-->
<g stroke="#333" stroke-width="1" fill="none">
<rect x="58.5" y="59.5" width="422" height="321"/>
<path d="M48.5 74.5H58.5M48.5 144.5H58.5M48.5 215.5H58.5M48.5 285.5H58.5M48.5 355.5H58.5"/>
<path d="M59.5 380.5V390M129.5 380.5V390M198.500 380.5V390M268.500 380.5V390M338.500 380.5V390M407.500 380.5V390M477.500 380.5V390"/>
</g>
<g class="a">
<text class="a" x="11.5" y="78.900">12°N</text>
<text class="a" x="11.5" y="149.200">10°N</text>
<text class="a" x="18.700" y="219.700">8°N</text>
<text class="a" x="18.700" y="289.700">6°N</text>
<text class="a" x="18.700" y="359.900">4°N</text>
<text class="a" x="59.5" y="408.500" text-anchor="middle">24°E</text>
<text class="a" x="129.500" y="408.500" text-anchor="middle">26°E</text>
<text class="a" x="198.700" y="408.500" text-anchor="middle">28°E</text>
<text class="a" x="268.400" y="408.500" text-anchor="middle">30°E</text>
<text class="a" x="338.500" y="408.500" text-anchor="middle">32°E</text>
<text class="a" x="407.600" y="408.500" text-anchor="middle">34°E</text>
<text class="a" x="477.500" y="408.500" text-anchor="middle">36°E</text>
</g>
<!--LEGEND-->
<g>
<rect x="520.500" y="64" width="25" height="44.700" fill="#228B22"/>
<rect x="520.500" y="108.600" width="25" height="44.700" fill="#66CD00"/>
<rect x="520.500" y="153.200" width="25" height="44.700" fill="#00FF00"/>
<rect x="520.500" y="197.900" width="25" height="44.700" fill="#CAFF70"/>
<rect x="520.500" y="242.500" width="25" height="44.700" fill="#FFFF00"/>
<rect x="520.500" y="287.100" width="25" height="44.700" fill="#FFA500"/>
<rect x="520.500" y="331.800" width="25" height="44.500" fill="#D9D9D9"/>
<path d="M520.5 108.6H545.5" stroke="#7a7a7a" stroke-width="0.4" fill="none"/><path d="M520.5 153.2H545.5" stroke="#7a7a7a" stroke-width="0.4" fill="none"/><path d="M520.5 197.9H545.5" stroke="#7a7a7a" stroke-width="0.4" fill="none"/><path d="M520.5 242.5H545.5" stroke="#7a7a7a" stroke-width="0.4" fill="none"/><path d="M520.5 287.1H545.5" stroke="#7a7a7a" stroke-width="0.4" fill="none"/><path d="M520.5 331.8H545.5" stroke="#7a7a7a" stroke-width="0.4" fill="none"/>
<rect x="520.500" y="64" width="25" height="312.300" fill="none" stroke="#888" stroke-width="0.6"/>
<text class="l" x="553" y="112.500">200</text>
<text class="l" x="553" y="157">100</text>
<text class="l" x="556" y="201.700">50</text>
<text class="l" x="556" y="246.300">30</text>
<text class="l" x="556" y="291">10</text>
<text class="l" x="559.500" y="335.600">1</text>
</g>
</svg>
</body></html>
